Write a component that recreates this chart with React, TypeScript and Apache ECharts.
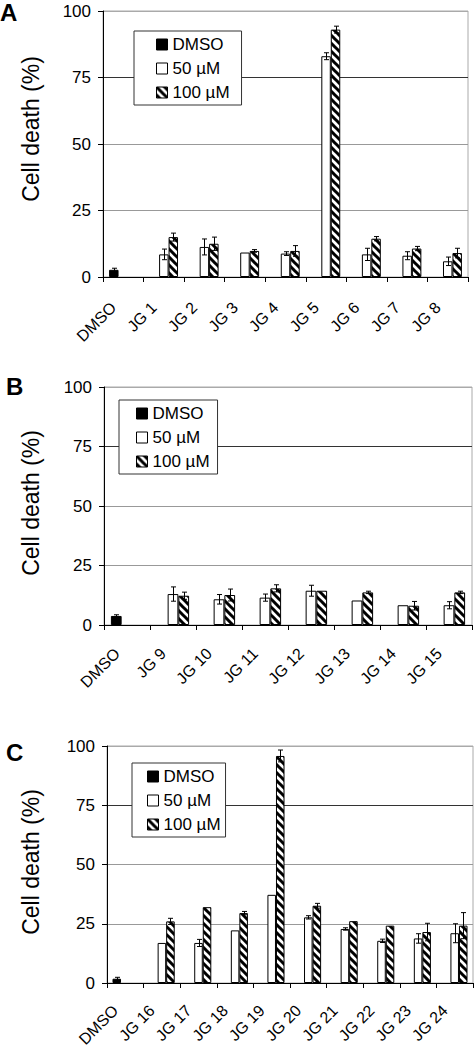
import React, { useEffect, useRef } from 'react';
import * as echarts from 'echarts';

const FONT = "'Liberation Sans', Arial, Helvetica, sans-serif";

// ---------- Data ----------
const yTicks = [0, 25, 50, 75, 100];
const seriesNames = ['DMSO', '50 µM', '100 µM'];

const categoriesA = ['DMSO', 'JG 1', 'JG 2', 'JG 3', 'JG 4', 'JG 5', 'JG 6', 'JG 7', 'JG 8'];
const dmsoA = 2.7;
const dmsoErrA = 0.6;
const v50A = [8.5, 11.3, 9.2, 8.8, 83, 8.5, 8.0, 5.9];
const e50A = [2, 3, 0, 0.7, 1.3, 2.3, 1.5, 1.6];
const v100A = [15, 12.5, 9.8, 9.8, 93, 14.4, 10.7, 9.0];
const e100A = [1.5, 2.5, 0.5, 2, 1.3, 0.8, 0.8, 1.8];

const categoriesB = ['DMSO', 'JG 9', 'JG 10', 'JG 11', 'JG 12', 'JG 13', 'JG 14', 'JG 15'];
const dmsoB = 3.8;
const dmsoErrB = 0.5;
const v50B = [13, 10.8, 11.5, 14.4, 10.3, 8.3, 8.3];
const e50B = [3, 2, 1.5, 2.3, 0, 0, 1.5];
const v100B = [12.3, 12.6, 15.4, 14.4, 13.7, 8.1, 13.7];
const e100B = [1.5, 2.5, 1.5, 0, 0.5, 1.8, 0.5];

const categoriesC = ['DMSO', 'JG 16', 'JG 17', 'JG 18', 'JG 19', 'JG 20', 'JG 21', 'JG 22', 'JG 23', 'JG 24'];
const dmsoC = 1.8;
const dmsoErrC = 0.6;
const v50C = [16.9, 16.9, 22.2, 37.2, 27.7, 22.8, 17.8, 18.8, 21];
const e50C = [0, 1.5, 0, 0, 0.7, 0.5, 0.7, 2, 4];
const v100C = [26, 32, 29.5, 95.8, 32.6, 26.1, 24.2, 21.5, 24.2];
const e100C = [1.3, 0, 0.7, 2.5, 1, 0, 0, 3.7, 5.5];

// ---------- Layout ----------
const panels = [
  {
    letter: 'A', cats: categoriesA, dmso: dmsoA, dmsoErr: dmsoErrA, v50: v50A, e50: e50A, v100: v100A, e100: e100A,
    grid: { left: 103, top: 11, width: 365, height: 266 },
    legend: { left: 134, top: 31, padding: [5, 12, 4, 22] },
    title: { x: 31, y: 129 }, letterPos: { x: 0, y: 0 }, labelMargin: 18,
  },
  {
    letter: 'B', cats: categoriesB, dmso: dmsoB, dmsoErr: dmsoErrB, v50: v50B, e50: e50B, v100: v100B, e100: e100B,
    grid: { left: 104, top: 387, width: 368, height: 238 },
    legend: { left: 119, top: 400, padding: [5, 8, 4, 17] },
    title: { x: 31, y: 503 }, letterPos: { x: 6, y: 374 }, labelMargin: 16,
  },
  {
    letter: 'C', cats: categoriesC, dmso: dmsoC, dmsoErr: dmsoErrC, v50: v50C, e50: e50C, v100: v100C, e100: e100C,
    grid: { left: 107, top: 746, width: 366, height: 237 },
    legend: { left: 132, top: 763, padding: [5, 5, 4, 15] },
    title: { x: 31, y: 862 }, letterPos: { x: 6, y: 740 }, labelMargin: 15,
  },
];

const CAT_GAP = 0.3;

function makeHatch(): HTMLCanvasElement {
  const s = 8;
  const c = document.createElement('canvas');
  c.width = s;
  c.height = s;
  const ctx = c.getContext('2d')!;
  ctx.fillStyle = '#fff';
  ctx.fillRect(0, 0, s, s);
  ctx.strokeStyle = '#000';
  ctx.lineWidth = 3;
  ctx.beginPath();
  for (const o of [-s, 0, s]) {
    ctx.moveTo(o - 3, -3);
    ctx.lineTo(o + s + 3, s + 3);
  }
  ctx.stroke();
  return c;
}

function buildOption() {
  const hatch = { image: makeHatch(), repeat: 'repeat' };
  const grid: any[] = [];
  const xAxis: any[] = [];
  const yAxis: any[] = [];
  const legend: any[] = [];
  const series: any[] = [];
  const graphic: any[] = [];

  panels.forEach((p, i) => {
    grid.push({ ...p.grid, show: true, borderColor: '#aaa', borderWidth: 1, containLabel: false });
    xAxis.push({
      type: 'category', gridIndex: i, data: p.cats,
      axisLine: { lineStyle: { color: '#000', width: 1 } },
      axisTick: { show: true, length: 5, lineStyle: { color: '#000' }, alignWithLabel: false },
      axisLabel: {
        rotate: 45, interval: 0, margin: p.labelMargin, fontSize: 16, fontFamily: FONT, color: '#000',
        padding: [0, 14, 0, 0],
      },
      splitLine: { show: false },
    });
    yAxis.push({
      type: 'value', gridIndex: i, min: yTicks[0], max: yTicks[yTicks.length - 1], interval: yTicks[1] - yTicks[0],
      axisLine: { show: true, lineStyle: { color: '#000', width: 1 } },
      axisTick: { show: true, length: 5, lineStyle: { color: '#000' } },
      axisLabel: { fontSize: 17, fontFamily: FONT, color: '#000', margin: 12 },
      splitLine: { show: true, lineStyle: { color: ['#000', '#999', '#999', '#333', '#aaa'], width: 1 } },
    });
    const dmsoData = p.cats.map((_, k) => (k === 0 ? p.dmso : '-'));
    const d50 = ['-', ...p.v50];
    const d100 = ['-', ...p.v100];
    const common = { type: 'bar', xAxisIndex: i, yAxisIndex: i, barGap: '0%', barCategoryGap: `${CAT_GAP * 100}%` };
    series.push({ ...common, name: seriesNames[0], data: dmsoData, itemStyle: { color: '#000', borderColor: '#000', borderWidth: 1 } });
    series.push({ ...common, name: seriesNames[1], data: d50, itemStyle: { color: '#fff', borderColor: '#000', borderWidth: 1 } });
    series.push({ ...common, name: seriesNames[2], data: d100, itemStyle: { color: hatch, borderColor: '#000', borderWidth: 1 } });

    const errData: number[][] = [];
    errData.push([0, 0, p.dmso, p.dmsoErr]);
    p.v50.forEach((v, k) => { if (p.e50[k] > 0) errData.push([k + 1, 1, v, p.e50[k]]); });
    p.v100.forEach((v, k) => { if (p.e100[k] > 0) errData.push([k + 1, 2, v, p.e100[k]]); });
    series.push({
      type: 'custom', xAxisIndex: i, yAxisIndex: i, z: 5,
      encode: { x: 0, y: 2 },
      data: errData,
      renderItem: (params: any, api: any) => {
        const ci = api.value(0);
        const slot = api.value(1);
        const v = api.value(2);
        const e = api.value(3);
        const c = api.coord([ci, v]);
        const top = api.coord([ci, v + e]);
        const bot = api.coord([ci, Math.max(v - e, 0)]);
        const cw = api.size([1, 0])[0];
        const bw = (cw * (1 - CAT_GAP)) / 3;
        const x = Math.round(c[0] + (slot - 1) * bw) + 0.5;
        const cap = 2.5;
        const st = { stroke: '#000', lineWidth: 1 };
        return {
          type: 'group',
          children: [
            { type: 'line', shape: { x1: x, y1: top[1], x2: x, y2: bot[1] }, style: st },
            { type: 'line', shape: { x1: x - cap, y1: top[1], x2: x + cap, y2: top[1] }, style: st },
            { type: 'line', shape: { x1: x - cap, y1: bot[1], x2: x + cap, y2: bot[1] }, style: st },
          ],
        };
      },
    });

    legend.push({
      orient: 'vertical', left: p.legend.left, top: p.legend.top, padding: p.legend.padding,
      itemWidth: 11, itemHeight: 11, itemGap: 7, icon: 'rect',
      backgroundColor: '#fff', borderColor: '#333', borderWidth: 1, borderRadius: 0,
      itemStyle: { borderWidth: 1, borderColor: '#000' },
      textStyle: { fontSize: 17, fontFamily: FONT, color: '#000' },
      data: seriesNames, selectedMode: false, z: 10,
    });

    graphic.push({
      type: 'text', x: p.title.x, y: p.title.y, rotation: Math.PI / 2,
      style: {
        text: 'Cell death (%)', font: `23px ${FONT}`, fill: '#000',
        align: 'center', verticalAlign: 'middle', textAlign: 'center', textVerticalAlign: 'middle',
      },
    });
    graphic.push({
      type: 'text', x: p.letterPos.x, y: p.letterPos.y,
      style: { text: p.letter, font: `bold 24px ${FONT}`, fill: '#000', align: 'left', verticalAlign: 'top' },
    });
  });

  return { animation: false, backgroundColor: '#fff', grid, xAxis, yAxis, legend, series, graphic };
}

export default function App() {
  const ref = useRef<HTMLDivElement>(null);
  useEffect(() => {
    document.body.style.margin = '0';
    if (!ref.current) return;
    const chart = echarts.init(ref.current, undefined, { renderer: 'svg' });
    chart.setOption(buildOption() as any);
    return () => chart.dispose();
  }, []);
  return <div ref={ref} style={{ width: 474, height: 1050 }} />;
}
